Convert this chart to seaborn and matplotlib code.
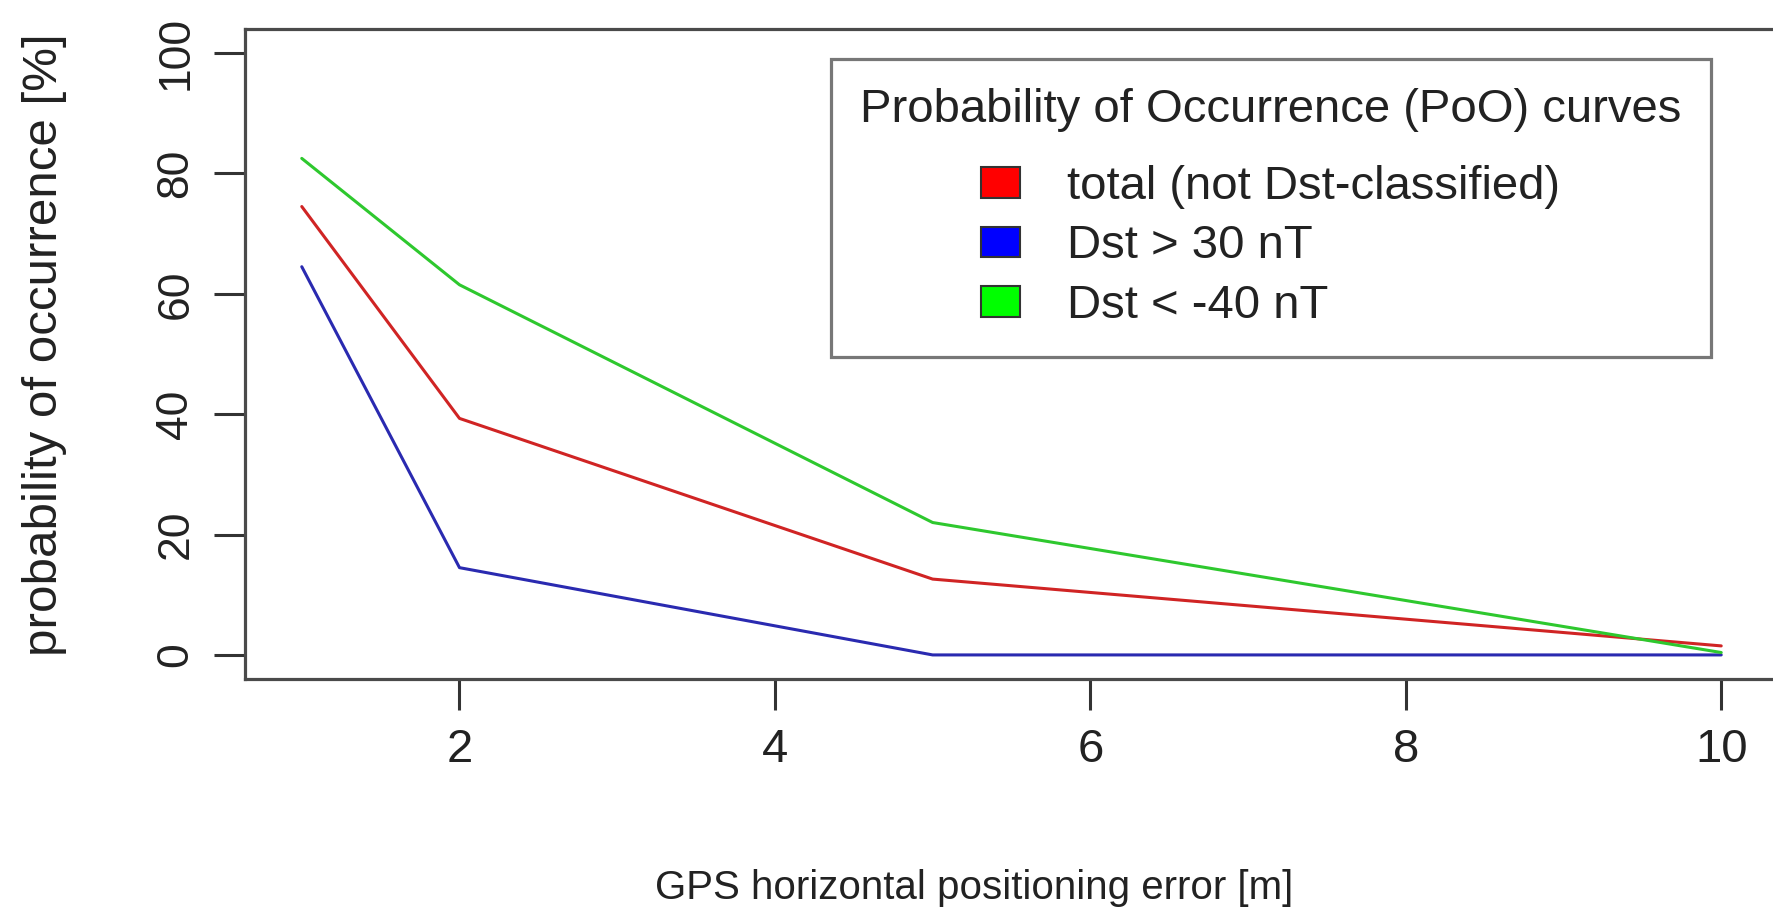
import matplotlib
matplotlib.use("Agg")
import matplotlib.pyplot as plt
from matplotlib.patches import Patch
import seaborn as sns
import pandas as pd

# ---- data ----
x_err = [1, 2, 5, 10]
total = [74.5, 39.3, 12.6, 1.5]
dst_pos = [64.5, 14.5, 0.0, 0.0]
dst_neg = [82.5, 61.5, 22.0, 0.4]
series_names = ["total (not Dst-classified)", "Dst > 30 nT", "Dst < -40 nT"]
legend_title = "Probability of Occurrence (PoO) curves"
x_ticks = [2, 4, 6, 8, 10]
y_ticks = [0, 20, 40, 60, 80, 100]
x_label = "GPS horizontal positioning error [m]"
y_label = "probability of occurrence [%]"

line_colors = ["#d02424", "#2a2ab0", "#2ec82e"]
fill_colors = ["#ff0000", "#0000ff", "#00ff00"]

df = pd.DataFrame({
    "x": x_err * 3,
    "y": total + dst_pos + dst_neg,
    "series": [series_names[0]] * 4 + [series_names[1]] * 4 + [series_names[2]] * 4,
})

sns.set_theme(style="white")
plt.rcParams["font.family"] = ["Liberation Sans", "DejaVu Sans"]
TXT = "#222222"

fig = plt.figure(figsize=(17.73, 9.11), dpi=100)
fig.patch.set_facecolor("white")
ax = fig.add_axes([245 / 1773, 1 - 679 / 911, 1533 / 1773, 650 / 911])

sns.lineplot(data=df, x="x", y="y", hue="series", hue_order=series_names,
             palette=dict(zip(series_names, line_colors)), linewidth=2.2,
             legend=False, ax=ax, estimator=None, sort=False)

ax.set_xlim(0.64, 10.36)
ax.set_ylim(-4, 104)
ax.set_xticks(x_ticks)
ax.set_yticks(y_ticks)
ax.set_xticklabels([str(v) for v in x_ticks], fontsize=34, color=TXT)
ax.set_yticklabels([str(v) for v in y_ticks], fontsize=32, color=TXT,
                   rotation=90, va="center")
ax.tick_params(axis="both", length=22, width=2.2, color="#333333",
               direction="out", bottom=True, left=True)
ax.tick_params(axis="x", pad=13)
ax.tick_params(axis="y", pad=13)
for sp in ax.spines.values():
    sp.set_color("#4a4a4a")
    sp.set_linewidth(2.3)
    sp.set_visible(True)

ax.set_xlabel("")
ax.set_ylabel("")
fig.text(974 / 1773, 1 - 888 / 911, x_label, fontsize=29, color=TXT,
         ha="center", va="center")
fig.text(45 / 1773, 1 - 345 / 911, y_label, fontsize=35.5, color=TXT,
         ha="center", va="center", rotation=90)

handles = [Patch(facecolor=c, edgecolor="#333333", linewidth=1.5) for c in fill_colors]
leg = ax.legend(handles, series_names, title=legend_title, loc="upper left",
                bbox_to_anchor=(831 / 1773, 1 - 59 / 911),
                bbox_transform=fig.transFigure, borderaxespad=0,
                fontsize=34, title_fontsize=34, frameon=True, fancybox=False,
                edgecolor="#555555", handlelength=0.82, handleheight=0.62,
                handletextpad=1.0, labelspacing=0.33, borderpad=0.62)
leg.get_frame().set_linewidth(2.3)
leg._legend_box.sep = 23.5
for t in leg.get_texts():
    t.set_color(TXT)
leg.get_title().set_color(TXT)

fig.savefig("out.png", dpi=100, facecolor="white")
